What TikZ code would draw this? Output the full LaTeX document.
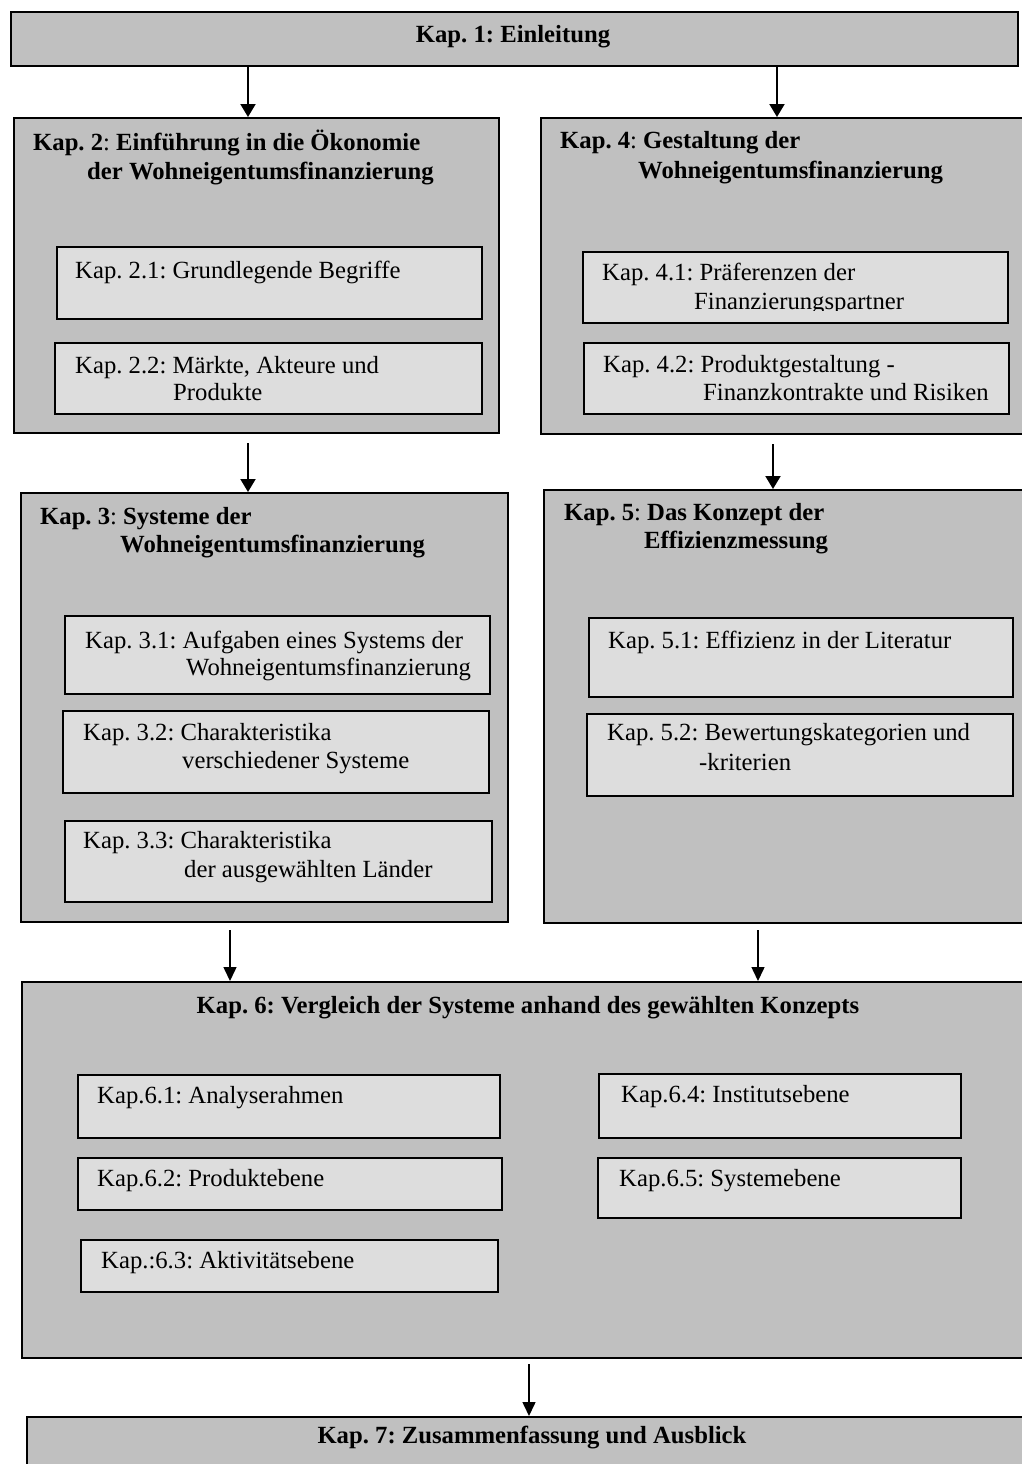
\documentclass[tikz,border=0pt]{standalone}
\usepackage{fontspec}
\setmainfont{Liberation Serif}
\usetikzlibrary{arrows.meta}
\definecolor{outergray}{RGB}{192,192,192}
\definecolor{innergray}{RGB}{221,221,221}
\newcommand\fs{\fontsize{24.7}{28}\selectfont\frenchspacing}
% box from top-left (x1,y1) to bottom-right (x2,y2)
\newcommand\mkbox[6]{\node[#1, minimum width={#4-#2}, minimum height={#5-#3}] (#6) at (#2,#3) {};}
\begin{document}
\begin{tikzpicture}[x=1pt, y=-1pt,
  outerbox/.style={draw, fill=outergray, line width=2pt, inner sep=0pt, anchor=north west},
  innerbox/.style={draw, fill=innergray, line width=1.6pt, inner sep=0pt, anchor=north west},
  lbl/.style={anchor=base west, inner sep=0pt, font=\fs},
  ttl/.style={anchor=base west, inner sep=0pt, font=\fs\bfseries},
  ctitle/.style={anchor=base, inner sep=0pt, font=\fs\bfseries},
  arr/.style={line width=2pt, -{Triangle[width=15pt,length=13pt]}},
  arrthin/.style={line width=1.5pt, -{Triangle[width=13pt,length=14pt]}}]
\clip (0,0) rectangle (1022,1464);
\fill[white] (0,0) rectangle (1022,1464);

% chapter 1
\mkbox{outerbox}{10}{11}{1017}{65}{b1}
\node[ctitle] (t1) at (513,43) {Kap. 1: Einleitung};

% chapter 2
\mkbox{outerbox}{13}{117}{498}{432}{b2}
\node[ttl] (t2a) at (33,150) {Kap. 2\textmd{:} Einführung in die Ökonomie};
\node[ttl] (t2b) at (87,179) {der Wohneigentumsfinanzierung};
\mkbox{innerbox}{56}{246}{481}{318}{b21}
\node[lbl] (t21) at (75,278) {Kap. 2.1: Grundlegende Begriffe};
\mkbox{innerbox}{54}{342}{481}{413}{b22}
\node[lbl] (t22a) at (75,373) {Kap. 2.2: Märkte, Akteure und};
\node[lbl] (t22b) at (173,400) {Produkte};

% chapter 4
\mkbox{outerbox}{540}{117}{1040}{433}{b4}
\node[ttl] (t4a) at (560,148) {Kap. 4\textmd{:} Gestaltung der};
\node[ttl] (t4b) at (638,178) {Wohneigentumsfinanzierung};
\mkbox{innerbox}{582}{251}{1007}{322}{b41}
\node[lbl] (t41a) at (602,280) {Kap. 4.1: Präferenzen der};
\begin{scope}
  \clip (582,251) rectangle (1007,310);
  \node[lbl] (t41b) at (694,309) {Finanzierungspartner};
\end{scope}
\mkbox{innerbox}{583}{342}{1008}{413}{b42}
\node[lbl] (t42a) at (603,372) {Kap. 4.2: Produktgestaltung -};
\node[lbl] (t42b) at (703,400) {Finanzkontrakte und Risiken};

% chapter 3
\mkbox{outerbox}{20}{492}{507}{921}{b3}
\node[ttl] (t3a) at (40,524) {Kap. 3\textmd{:} Systeme der};
\node[ttl] (t3b) at (120,552) {Wohneigentumsfinanzierung};
\mkbox{innerbox}{64}{615}{489}{693}{b31}
\node[lbl] (t31a) at (85,648) {Kap. 3.1: Aufgaben eines Systems der};
\node[lbl] (t31b) at (186,675) {Wohneigentumsfinanzierung};
\mkbox{innerbox}{62}{710}{488}{792}{b32}
\node[lbl] (t32a) at (83,740) {Kap. 3.2: Charakteristika};
\node[lbl] (t32b) at (182,768) {verschiedener Systeme};
\mkbox{innerbox}{64}{820}{491}{901}{b33}
\node[lbl] (t33a) at (83,848) {Kap. 3.3: Charakteristika};
\node[lbl] (t33b) at (184,877) {der ausgewählten Länder};

% chapter 5
\mkbox{outerbox}{543}{489}{1040}{922}{b5}
\node[ttl] (t5a) at (564,520) {Kap. 5\textmd{:} Das Konzept der};
\node[ttl] (t5b) at (644,548) {Effizienzmessung};
\mkbox{innerbox}{588}{617}{1012}{696}{b51}
\node[lbl] (t51) at (608,648) {Kap. 5.1: Effizienz in der Literatur};
\mkbox{innerbox}{586}{713}{1012}{795}{b52}
\node[lbl] (t52a) at (607,740) {Kap. 5.2: Bewertungskategorien und};
\node[lbl] (t52b) at (699,770) {-kriterien};

% chapter 6
\mkbox{outerbox}{21}{981}{1040}{1357}{b6}
\node[ctitle] (t6) at (528,1013) {Kap. 6: Vergleich der Systeme anhand des gewählten Konzepts};
\mkbox{innerbox}{77}{1074}{499}{1137}{b61}
\node[lbl] (t61) at (97,1103) {Kap.6.1: Analyserahmen};
\mkbox{innerbox}{77}{1157}{501}{1209}{b62}
\node[lbl] (t62) at (97,1186) {Kap.6.2: Produktebene};
\mkbox{innerbox}{80}{1239}{497}{1291}{b63}
\node[lbl] (t63) at (101,1268) {Kap.:6.3: Aktivitätsebene};
\mkbox{innerbox}{598}{1073}{960}{1137}{b64}
\node[lbl] (t64) at (621,1102) {Kap.6.4: Institutsebene};
\mkbox{innerbox}{597}{1157}{960}{1217}{b65}
\node[lbl] (t65) at (619,1186) {Kap.6.5: Systemebene};

% chapter 7
\mkbox{outerbox}{26}{1416}{1040}{1520}{b7}
\node[ctitle] (t7) at (532,1443) {Kap. 7: Zusammenfassung und Ausblick};

% connectors
\coordinate (xa) at (248,0);
\coordinate (xb) at (777,0);
\coordinate (xc) at (773,0);
\coordinate (xd) at (230,0);
\coordinate (xe) at (758,0);
\coordinate (xf) at (529,0);
\draw[arr] (b1.south -| xa) -- (b2.north -| xa);
\draw[arr] (b1.south -| xb) -- (b4.north -| xb);
\draw[arr, shorten <=9pt] (b2.south -| xa) -- (b3.north -| xa);
\draw[arr, shorten <=9pt] (b4.south -| xc) -- (b5.north -| xc);
\draw[arrthin, shorten <=7pt] (b3.south -| xd) -- (b6.north -| xd);
\draw[arrthin, shorten <=6pt] (b5.south -| xe) -- (b6.north -| xe);
\draw[arrthin, shorten <=5pt] (b6.south -| xf) -- (b7.north -| xf);
\end{tikzpicture}
\end{document}
